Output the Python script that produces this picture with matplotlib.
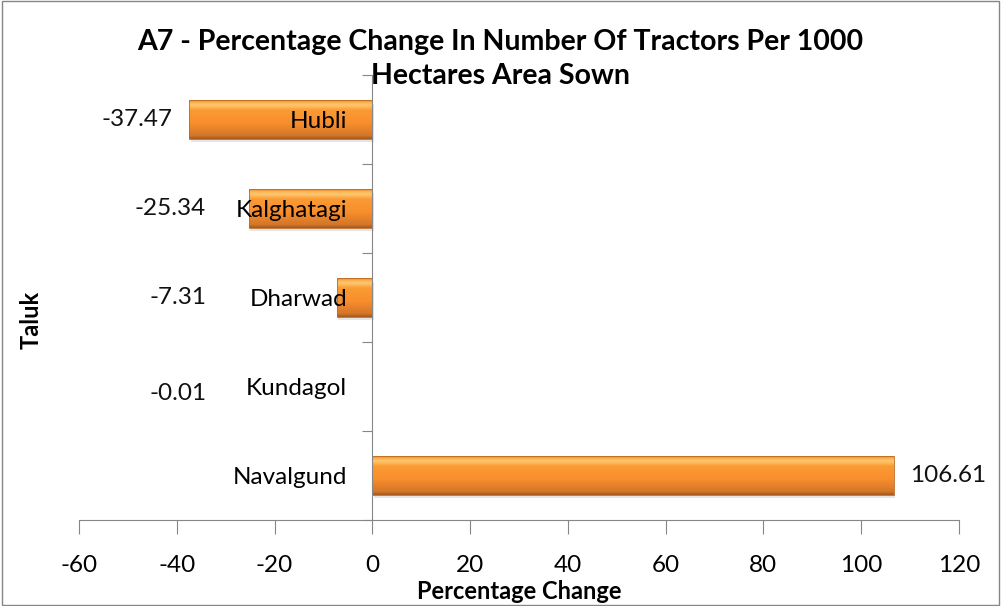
import matplotlib.pyplot as plt
import numpy as np
from matplotlib.colors import LinearSegmentedColormap
from matplotlib.patches import Rectangle

plt.rcParams['font.family'] = ['Lato', 'DejaVu Sans']

taluks = ['Navalgund', 'Kundagol', 'Dharwad', 'Kalghatagi', 'Hubli']
values = [106.61, -0.01, -7.31, -25.34, -37.47]
value_labels = ['106.61', '-0.01', '-7.31', '-25.34', '-37.47']
x_ticks = [-60, -40, -20, 0, 20, 40, 60, 80, 100, 120]

fig = plt.figure(figsize=(10.01, 6.06), dpi=100)
ax = fig.add_axes([0.079, 0.142, 0.879, 0.734])

ypos = np.arange(len(taluks))
bars = ax.barh(ypos, values, height=0.43, color='none', edgecolor='none', zorder=2)

# bevelled orange look: vertical gradient clipped to each bar
grad = LinearSegmentedColormap.from_list('bevel', [
    (0.0, '#a65a1c'), (0.08, '#d2762a'), (0.4, '#f88e2c'),
    (0.75, '#fb9b34'), (0.88, '#fec872'), (0.95, '#fbb04c'), (1.0, '#e8842e')])
g = np.linspace(0, 1, 64).reshape(-1, 1)
for b in bars:
    x0, y0, w, h = b.get_x(), b.get_y(), b.get_width(), b.get_height()
    if abs(w) < 0.05:
        continue
    # soft shadow under the bar
    sh = Rectangle((x0 + 0.3, y0 - 0.04), w, h, facecolor='#000000', alpha=0.10,
                   edgecolor='none', zorder=1.5)
    ax.add_patch(sh)
    im = ax.imshow(g, cmap=grad, aspect='auto', origin='lower',
                   extent=(min(x0, x0 + w), max(x0, x0 + w), y0, y0 + h), zorder=2)
    r = Rectangle((x0, y0), w, h, facecolor='none', edgecolor='#c06a24', lw=0.6, zorder=2.1)
    ax.add_patch(r)
    im.set_clip_path(r)

ax.set_xlim(-60, 120)
ax.set_ylim(-0.5, len(taluks) - 0.5)

# data labels
for y, v, lab in zip(ypos, values, value_labels):
    if v >= 0:
        ax.text(v + 3.3, y, lab, ha='left', va='center', fontsize=17.5, color='#111111')
    else:
        dy = -0.08 if abs(v) < 1 else 0
        ax.text(min(v - 3.5, -34), y + dy, lab, ha='right', va='center',
                fontsize=17.5, color='#111111')

# axes styling
for s in ['top', 'right']:
    ax.spines[s].set_visible(False)
ax.spines['left'].set_position(('data', 0))
ax.spines['left'].set_color('#868686')
ax.spines['bottom'].set_color('#868686')
ax.spines['left'].set_zorder(3)
ax.yaxis.set_zorder(5)

ax.set_xticks(x_ticks)
ax.set_xticklabels([str(t) for t in x_ticks])
ax.tick_params(axis='x', direction='out', length=10, color='#868686',
               labelsize=17.5, pad=15)

ax.set_yticks(np.arange(len(taluks) + 1) - 0.5)
ax.set_yticklabels([])
ax.set_yticks(ypos, minor=True)
ax.set_yticklabels(taluks, minor=True)
ax.tick_params(axis='y', which='major', direction='out', length=7, color='#868686')
ax.tick_params(axis='y', which='minor', length=0, labelsize=17.5, pad=18)

ax.set_xlabel('Percentage Change', fontsize=17, fontweight='bold', labelpad=3)
ax.set_ylabel('Taluk', fontsize=17, fontweight='bold')
ax.yaxis.set_label_coords(-0.041, 0.45)

fig.text(0.5, 0.902, 'A7 - Percentage Change In Number Of Tractors Per 1000\nHectares Area Sown',
         ha='center', va='center', fontsize=20.5, fontweight='bold', linespacing=1.38)

# chart border
fig.patches.append(Rectangle((0.002, 0.002), 0.996, 0.996, transform=fig.transFigure,
                             fill=False, edgecolor='#868686', lw=1))

fig.savefig('out.png', dpi=100)
